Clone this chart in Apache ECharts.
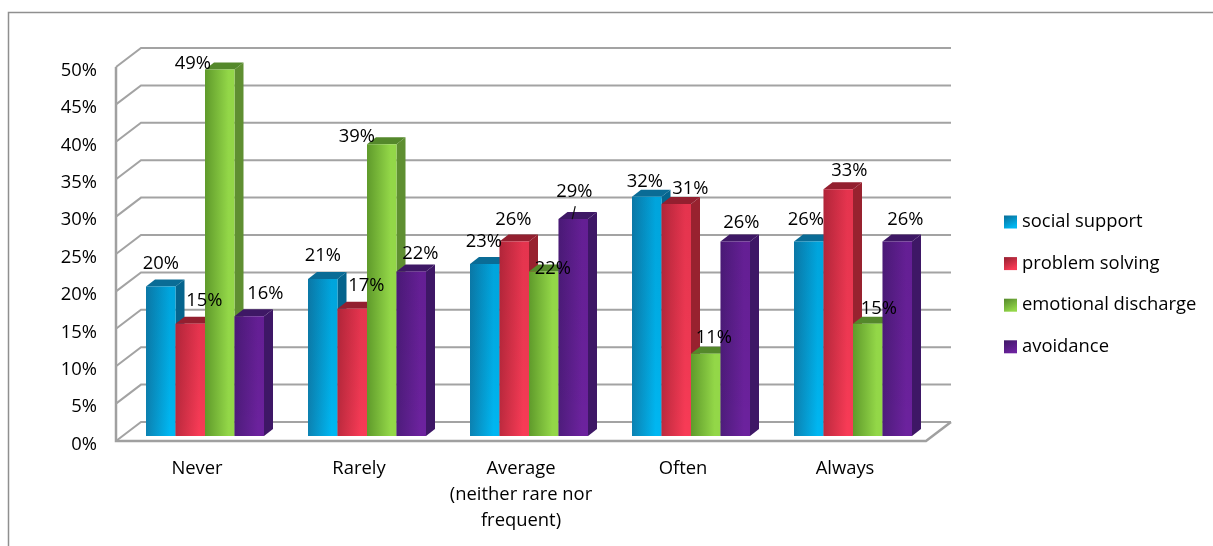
<!DOCTYPE html>
<html><head><meta charset="utf-8">
<style>html,body{margin:0;padding:0;background:#fff}#c{width:1213px;height:546px}</style>
<script src="https://cdn.jsdelivr.net/npm/echarts@6/dist/echarts.min.js"></script>
</head><body><div id="c"></div>
<script>
const categories = ['Never','Rarely','Average\n(neither rare nor\nfrequent)','Often','Always'];
const socialSupport = [20,21,23,32,26];
const problemSolving = [15,17,26,31,33];
const emotionalDischarge = [49,39,22,11,15];
const avoidance = [16,22,29,26,26];
const ticks = [0,5,10,15,20,25,30,35,40,45,50];

// layout (px) – label nudges relative to each bar's top-centre
const nudges = [
  [[0,-24],[0,-24],[-1,-23],[-2,-16],[-3,-23]],
  [[14,-24],[14,-24],[-1,-23],[14,-16],[11,-19]],
  [[-27,-7],[-25,-9],[9,-4],[8,-17],[11,-16]],
  [[16,-24],[9,-19],[1,-28],[6,-20],[8,-23]]
];
const WALL = [25,-19];       // depth of the chart box
const PLANE = [8,-5];        // bars sit this far into the box
const DEPTH = [9,-7];        // depth of each bar
const GROUP = 118/162;       // share of the band covered by a group of bars
const FONT = 18.4;

const lg = (x,y,x2,y2,a,b,mid)=>({type:'linear',x,y,x2,y2,colorStops:[{offset:0,color:a},{offset:mid||1,color:b},{offset:1,color:b}]});
const styles = [
  {name:'social support',left:'#0c82b2',right:'#00b7f2',shade:'rgba(0,50,90,0.14)',top:'#0a6c96',side:'#05648d'},
  {name:'problem solving',left:'#bd2a3e',right:'#f83b56',shade:'rgba(90,0,20,0.12)',top:'#931f2f',side:'#98222f'},
  {name:'emotional discharge',left:'#5f9a2b',right:'#93d748',shade:'rgba(0,0,0,0)',top:'#54882b',side:'#5f8f31'},
  {name:'avoidance',left:'#4e1c7c',right:'#6c229e',shade:'rgba(30,0,60,0.10)',top:'#3e1865',side:'#3e1766'}
];
const values = [socialSupport,problemSolving,emotionalDischarge,avoidance];

function barRender(s){
  return function(params,api){
    const i = api.value(0), v = api.value(1);
    const sz = api.size([1,0])[0];
    const w = sz*GROUP/4;
    const base = api.coord([i,0]), topP = api.coord([i,v]);
    const x0 = base[0]-sz*GROUP/2+PLANE[0]+s*w, x1 = x0+w;
    const yb = base[1]+PLANE[1], yt = topP[1]+PLANE[1];
    const st = styles[s];
    const dx = DEPTH[0], dy = DEPTH[1];
    const r = {x:x0,y:yt,width:w,height:yb-yt};
    return {type:'group',children:[
      {type:'polygon',shape:{points:[[x1,yt],[x1+dx,yt+dy],[x1+dx,yb+dy],[x1,yb]]},style:{fill:st.side}},
      {type:'polygon',shape:{points:[[x0,yt],[x0+dx,yt+dy],[x1+dx,yt+dy],[x1,yt]]},style:{fill:st.top}},
      {type:'rect',shape:r,style:{fill:lg(0,0,1,0,st.left,st.right,0.8)}},
      {type:'rect',shape:r,style:{fill:lg(0,0,0,1,st.shade,'rgba(0,0,0,0)')}}
    ]};
  };
}
function labelRender(s){
  return function(params,api){
    const i = api.value(0), v = api.value(1);
    const sz = api.size([1,0])[0];
    const w = sz*GROUP/4;
    const base = api.coord([i,0]), topP = api.coord([i,v]);
    const cx = base[0]-sz*GROUP/2+PLANE[0]+s*w+w/2, yt = topP[1]+PLANE[1];
    const n = nudges[s][i];
    const kids = [{type:'text',style:{text:v+'%',x:cx+n[0],y:yt+n[1]+1,align:'center',verticalAlign:'middle',
      font:FONT+'px "Open Sans"',fill:'#000'}}];
    if(s===3 && i===2){ // leader line of the moved label
      kids.push({type:'line',shape:{x1:cx+2,y1:yt-13,x2:cx-1,y2:yt},style:{stroke:'#111',lineWidth:1.2}});
    }
    return {type:'group',children:kids};
  };
}
function wallRender(params,api){
  const p = api.coord([0,api.value(1)]);
  const cs = params.coordSys;
  const xl = cs.x, xr = cs.x+cs.width, y = p[1];
  const stroke = {stroke:'#a3a3a3',lineWidth:2,fill:null};
  const v = api.value(1);
  const kids = [{type:'polyline',shape:{points:[[xl,y],[xl+WALL[0],y+WALL[1]],[xr+WALL[0],y+WALL[1]]]},style:stroke}];
  if(v===0){
    kids.push({type:'polyline',shape:{points:[[xr+WALL[0],y+WALL[1]],[xr,y],[xl,y],[xl,cs.y]]},
      style:{stroke:'#a0a0a0',lineWidth:2.5,fill:null}});
  }
  return {type:'group',children:kids};
}

const series = [{type:'custom',name:'wall',silent:true,z:1,renderItem:wallRender,
  data:ticks.map(t=>[0,t]),encode:{x:0,y:1}}];
styles.forEach((st,s)=>{
  series.push({type:'custom',name:st.name,silent:true,z:2+s,renderItem:barRender(s),
    data:values[s].map((v,i)=>[i,v]),encode:{x:0,y:1}});
});
styles.forEach((st,s)=>{
  series.push({type:'custom',name:st.name+' labels',silent:true,z:10,renderItem:labelRender(s),
    data:values[s].map((v,i)=>[i,v]),encode:{x:0,y:1}});
});

const chart = echarts.init(document.getElementById('c'),null,{renderer:'canvas'});
const hiddenAxis = {axisLine:{show:false},axisTick:{show:false},splitLine:{show:false}};
chart.setOption({
  animation:false,
  backgroundColor:'#fff',
  textStyle:{fontFamily:'"Open Sans"'},
  // second grid only carries the value-axis labels, which sit slightly below the gridline ends
  grid:[{left:116,top:67,width:810,height:374},{left:116,top:70.5,width:810,height:374}],
  legend:{orient:'vertical',left:999,top:206.5,itemWidth:13,itemHeight:13,itemGap:20.6,
    selectedMode:false,icon:'rect',
    textStyle:{fontSize:FONT,color:'#000',fontFamily:'"Open Sans"',lineHeight:21},
    data:styles.map(st=>({name:st.name,icon:'rect',
      itemStyle:{color:lg(0,0,0.5,1,st.top,st.right)}}))},
  xAxis:[
    Object.assign({type:'category',gridIndex:0,data:categories,boundaryGap:true,
      axisLabel:{interval:0,margin:15,fontSize:FONT,lineHeight:26,color:'#000',fontFamily:'"Open Sans"'}},hiddenAxis),
    Object.assign({type:'category',gridIndex:1,data:categories,show:false},hiddenAxis)
  ],
  yAxis:[
    Object.assign({type:'value',gridIndex:0,min:0,max:50,interval:5,axisLabel:{show:false}},hiddenAxis),
    Object.assign({type:'value',gridIndex:1,min:0,max:50,interval:5,
      axisLabel:{margin:19,fontSize:FONT,color:'#000',formatter:'{value}%',fontFamily:'"Open Sans"'}},hiddenAxis)
  ],
  graphic:[{type:'polyline',silent:true,z:0,shape:{points:[[1213,12.5],[8.5,12.5],[8.5,546]]},
    style:{stroke:'#8f8f8f',lineWidth:1.5,fill:null}}],
  series
});
</script></body></html>
